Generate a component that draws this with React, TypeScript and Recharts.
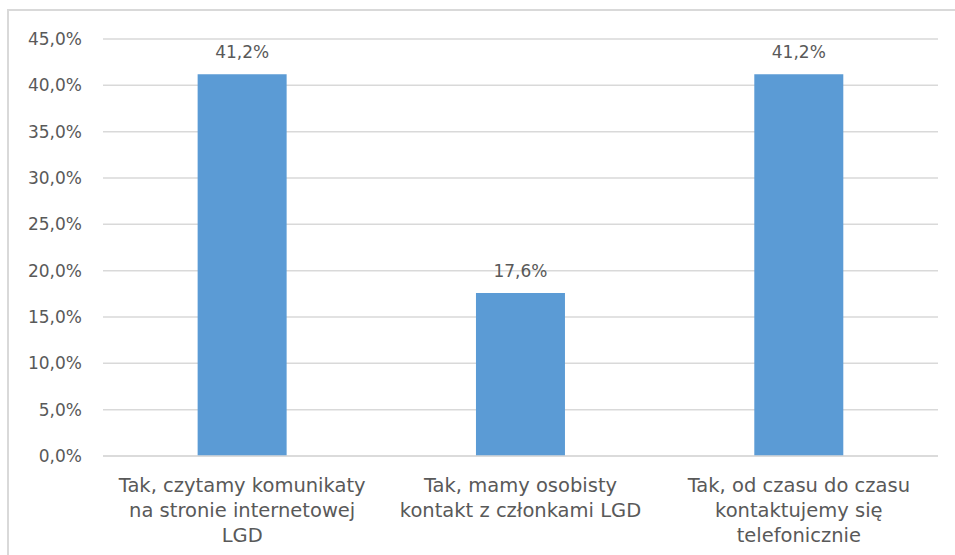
import React from 'react';
import { BarChart, Bar, XAxis, YAxis, CartesianGrid, LabelList } from 'recharts';

const categories = [
  'Tak, czytamy komunikaty\nna stronie internetowej\nLGD',
  'Tak, mamy osobisty\nkontakt z członkami LGD',
  'Tak, od czasu do czasu\nkontaktujemy się\ntelefonicznie',
];
const shares = [41.2, 17.6, 41.2];
const yTicks = [0, 5, 10, 15, 20, 25, 30, 35, 40, 45];

const data = categories.map((name, i) => ({ name, value: shares[i] }));

const FONT = '"DejaVu Sans", sans-serif';
const TEXT = '#595959';
const fmt = (v: number) => v.toFixed(1).replace('.', ',') + '%';

function CategoryTick(props: any) {
  const { x, y, payload } = props;
  const lines = String(payload.value).split('\n');
  return (
    <g transform={`translate(${x},${y})`}>
      <text textAnchor="middle" fill={TEXT} fontSize={19.5} fontFamily={FONT}>
        {lines.map((l, i) => (
          <tspan key={i} x={0} dy={i === 0 ? 28 : 25}>{l}</tspan>
        ))}
      </text>
    </g>
  );
}

export default function App() {
  return (
    <div style={{
      position: 'absolute', left: 7, top: 9, width: 948, height: 546,
      borderTop: '2px solid #d9d9d9', borderLeft: '2px solid #d9d9d9', boxSizing: 'border-box',
      background: '#fff', overflow: 'hidden',
    }}>
      <div style={{ position: 'absolute', left: -1, top: -3 }}>
        <BarChart width={947} height={547} data={data}
          margin={{ top: 31, right: 17, left: 5, bottom: 9 }} barCategoryGap="34%">
          <CartesianGrid vertical={false} stroke="#d9d9d9" strokeWidth={1.5} />
          <XAxis dataKey="name" axisLine={{ stroke: '#d9d9d9', strokeWidth: 1.5 }} tickLine={false}
            height={90} interval={0} tick={<CategoryTick />} />
          <YAxis domain={[0, 45]} ticks={yTicks} width={90} axisLine={false} tickLine={false}
            tickSize={0} tickMargin={21} tickFormatter={fmt}
            tick={{ fill: TEXT, fontSize: 17, fontFamily: FONT }} />
          <Bar dataKey="value" fill="#5b9bd5" isAnimationActive={false}>
            <LabelList dataKey="value" position="top" offset={16} formatter={(v: any) => fmt(Number(v))}
              fill={TEXT} fontSize={17} fontFamily={FONT} />
          </Bar>
        </BarChart>
      </div>
    </div>
  );
}
